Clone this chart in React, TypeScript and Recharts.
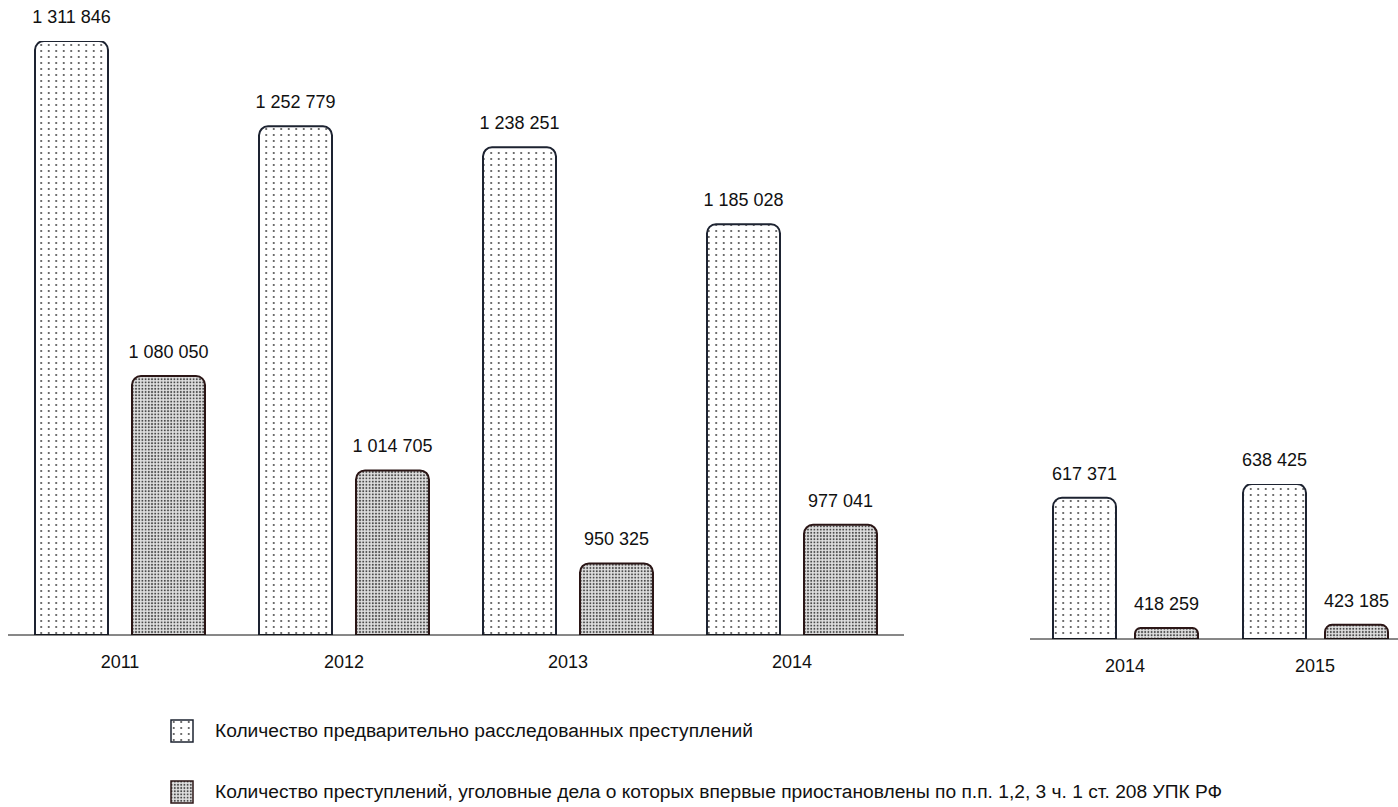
import { BarChart, Bar, XAxis, YAxis, LabelList } from "recharts";

const yearsLeft = ["2011", "2012", "2013", "2014"];
const investigatedLeft = [1311846, 1252779, 1238251, 1185028];
const suspendedLeft = [1080050, 1014705, 950325, 977041];

const yearsRight = ["2014", "2015"];
const investigatedRight = [617371, 638425];
const suspendedRight = [418259, 423185];

const legendLabels = [
  "Количество предварительно расследованных преступлений",
  "Количество преступлений, уголовные дела о которых впервые приостановлены по п.п. 1,2, 3 ч. 1 ст. 208 УПК РФ",
];

const FONT = "'Liberation Sans', Arial, sans-serif";

const leftData = yearsLeft.map((year, i) => ({
  year,
  investigated: investigatedLeft[i],
  suspended: suspendedLeft[i],
}));

const rightData = yearsRight.map((year, i) => ({
  year,
  investigated: investigatedRight[i],
  suspended: suspendedRight[i],
}));

const formatNum = (v: any) => String(v).replace(/\B(?=(\d{3})+(?!\d))/g, " ");

function Patterns() {
  return (
    <svg width={0} height={0} style={{ position: "absolute" }}>
      <defs>
        <pattern id="sparseDots" width={7.5} height={6} patternUnits="userSpaceOnUse">
          <rect width={7.5} height={6} fill="#ffffff" />
          <circle cx={3.75} cy={3} r={0.9} fill="#333" />
        </pattern>
        <pattern id="denseDots" width={3.2} height={3.2} patternUnits="userSpaceOnUse">
          <rect width={3.2} height={3.2} fill="#e0e0e0" />
          <circle cx={1.6} cy={1.6} r={1} fill="#4a4a4a" />
        </pattern>
      </defs>
    </svg>
  );
}

function Chart({
  data,
  width,
  margin,
  domain,
  catGap,
  gap,
}: {
  data: any[];
  width: number;
  margin: any;
  domain: [number, number];
  catGap: number;
  gap: number;
}) {
  return (
    <BarChart
      width={width}
      height={700}
      data={data}
      margin={margin}
      barCategoryGap={catGap}
      barGap={gap}
    >
      <XAxis
        dataKey="year"
        axisLine={{ stroke: "#111", strokeWidth: 1 }}
        tickLine={false}
        tickMargin={14}
        tick={{ fill: "#111", fontSize: 18, fontFamily: FONT }}
      />
      <YAxis hide domain={domain} allowDataOverflow />
      <Bar
        dataKey="investigated"
        fill="url(#sparseDots)"
        stroke="#1d2331"
        strokeWidth={2}
        radius={[9, 9, 0, 0]}
        isAnimationActive={false}
      >
        <LabelList
          dataKey="investigated"
          position="top"
          offset={18}
          formatter={formatNum}
          style={{ fill: "#111", fontSize: 18, fontFamily: FONT }}
        />
      </Bar>
      <Bar
        dataKey="suspended"
        fill="url(#denseDots)"
        stroke="#2b1616"
        strokeWidth={2}
        radius={[9, 9, 0, 0]}
        isAnimationActive={false}
      >
        <LabelList
          dataKey="suspended"
          position="top"
          offset={18}
          formatter={formatNum}
          style={{ fill: "#111", fontSize: 18, fontFamily: FONT }}
        />
      </Bar>
    </BarChart>
  );
}

export default function App() {
  return (
    <div
      style={{
        position: "absolute",
        left: 0,
        top: 0,
        width: 1398,
        height: 807,
        overflow: "hidden",
        background: "#fff",
        fontFamily: FONT,
      }}
    >
      <Patterns />
      <div style={{ position: "absolute", left: 0, top: 0 }}>
        <Chart
          data={leftData}
          width={920}
          margin={{ top: 41, right: 16, bottom: 35, left: 8 }}
          domain={[900800, 1311846]}
          catGap={27}
          gap={24}
        />
      </div>
      <div style={{ position: "absolute", left: 1022, top: 0 }}>
        <Chart
          data={rightData}
          width={400}
          margin={{ top: 484, right: 12, bottom: 31, left: 8 }}
          domain={[401400, 638425]}
          catGap={23}
          gap={19}
        />
      </div>
      {legendLabels.map((label, i) => (
        <div
          key={label}
          style={{
            position: "absolute",
            left: 170,
            top: i === 0 ? 719 : 780,
            display: "flex",
            alignItems: "center",
            height: 24,
          }}
        >
          <svg width={24} height={24}>
            <rect
              x={1}
              y={1}
              width={22}
              height={22}
              fill={i === 0 ? "url(#sparseDots)" : "url(#denseDots)"}
              stroke={i === 0 ? "#1d2331" : "#2b1616"}
              strokeWidth={1.5}
            />
          </svg>
          <span style={{ marginLeft: 21, fontSize: 19.2, color: "#111", whiteSpace: "nowrap" }}>
            {label}
          </span>
        </div>
      ))}
    </div>
  );
}
